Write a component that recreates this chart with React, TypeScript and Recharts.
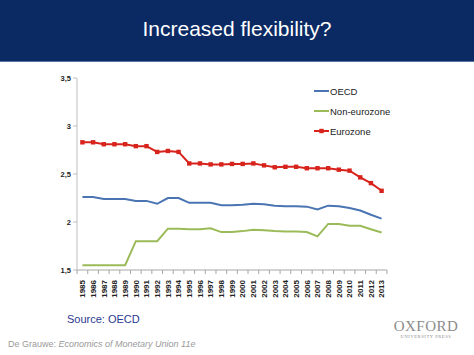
import React from 'react';
import { LineChart, Line, XAxis, YAxis, Legend } from 'recharts';

const years = [
  '1985', '1986', '1987', '1988', '1989', '1990', '1991', '1992', '1993', '1994',
  '1995', '1996', '1997', '1998', '1999', '2000', '2001', '2002', '2003', '2004',
  '2005', '2006', '2007', '2008', '2009', '2010', '2011', '2012', '2013',
];

const oecd = [
  2.26, 2.26, 2.24, 2.24, 2.24, 2.22, 2.22, 2.19, 2.25, 2.25,
  2.2, 2.2, 2.2, 2.175, 2.175, 2.18, 2.19, 2.185, 2.17, 2.165,
  2.165, 2.16, 2.13, 2.17, 2.165, 2.145, 2.12, 2.075, 2.035,
];

const nonEurozone = [
  1.55, 1.55, 1.55, 1.55, 1.55, 1.8, 1.8, 1.8, 1.93, 1.93,
  1.925, 1.925, 1.935, 1.895, 1.895, 1.905, 1.92, 1.915, 1.905, 1.9,
  1.9, 1.895, 1.85, 1.98, 1.98, 1.96, 1.96, 1.925, 1.89,
];

const eurozone = [
  2.83, 2.83, 2.81, 2.81, 2.81, 2.79, 2.79, 2.73, 2.74, 2.73,
  2.61, 2.61, 2.6, 2.6, 2.605, 2.605, 2.61, 2.59, 2.57, 2.575,
  2.575, 2.56, 2.56, 2.56, 2.545, 2.535, 2.465, 2.405, 2.325,
];

const yTicks = [1.5, 2, 2.5, 3, 3.5];

const data = years.map((year, i) => ({
  year,
  oecd: oecd[i],
  nonEuro: nonEurozone[i],
  euro: eurozone[i],
}));

const BLUE = '#4a74b2';
const GREEN = '#9bbb59';
const RED = '#d8231c';
const FONT = '"Liberation Sans", Arial, sans-serif';

const PLOT_W = 310;
const PAD = 5.4;
const HALF = (PLOT_W - 2 * PAD) / (years.length - 1) / 2;

// square markers like the Excel original
const SquareDot = ({ cx, cy, index }: any) => (
  <rect key={`sq-${index}`} x={cx - 2.2} y={cy - 2.2} width={4.4} height={4.4} fill={RED} />
);

// rotated year label with tick mark on the category boundary
const YearTick = ({ x, y, payload, index }: any) => (
  <g>
    <line x1={x - HALF} x2={x - HALF} y1={y - 8} y2={y - 4} stroke="#a6a6a6" />
    {index === years.length - 1 && (
      <line x1={x + HALF} x2={x + HALF} y1={y - 8} y2={y - 4} stroke="#a6a6a6" />
    )}
    <text
      x={x}
      y={y}
      transform={`rotate(-90 ${x} ${y})`}
      textAnchor="end"
      dy={2.8}
      dx={-2}
      fontSize={8}
      fontWeight="bold"
      fontFamily={FONT}
      fill="#222"
    >
      {payload.value}
    </text>
  </g>
);

const LegendBox = () => {
  const items = [
    { name: 'OECD', color: BLUE, marker: false },
    { name: 'Non-eurozone', color: GREEN, marker: false },
    { name: 'Eurozone', color: RED, marker: true },
  ];
  return (
    <div style={{ fontFamily: FONT, fontSize: 9.5, color: '#222' }}>
      {items.map((it) => (
        <div key={it.name} style={{ display: 'flex', alignItems: 'center', height: 20 }}>
          <svg width={15} height={8} style={{ marginRight: 1 }}>
            <line x1={0} x2={15} y1={4} y2={4} stroke={it.color} strokeWidth={2} />
            {it.marker && <rect x={5.3} y={1.8} width={4.4} height={4.4} fill={RED} />}
          </svg>
          <span>{it.name}</span>
        </div>
      ))}
    </div>
  );
};

export default function App() {
  return (
    <div style={{ position: 'absolute', left: 0, top: 0, width: 474, height: 355, background: '#fff', overflow: 'hidden' }}>
      <div
        style={{
          position: 'absolute', left: 0, top: 0, width: 474, height: 61,
          background: '#0b2a63', borderBottom: '1px solid #5a74a4',
          color: '#fff', fontFamily: FONT, fontSize: 21,
          display: 'flex', alignItems: 'center', justifyContent: 'center',
        }}
      >
        <span style={{ marginTop: -3 }}>Increased flexibility?</span>
      </div>

      <div style={{ position: 'absolute', left: 0, top: 0 }}>
        <LineChart width={474} height={355} data={data} margin={{ top: 78, right: 87, left: 0, bottom: 0 }}>
          <XAxis
            dataKey="year"
            interval={0}
            height={85}
            padding={{ left: PAD, right: PAD }}
            tickLine={false}
            axisLine={{ stroke: '#a6a6a6' }}
            tick={<YearTick />}
          />
          <YAxis
            domain={[1.5, 3.5]}
            ticks={yTicks}
            width={77}
            axisLine={{ stroke: '#bfbfbf' }}
            tickLine={{ stroke: '#bfbfbf' }}
            tickSize={4}
            tickFormatter={(v: number) => String(v).replace('.', ',')}
            tick={{ fontSize: 7.5, fontWeight: 'bold', fontFamily: FONT, fill: '#222' }}
          />
          <Legend
            layout="vertical"
            align="center"
            verticalAlign="middle"
            wrapperStyle={{ left: 314, top: 81, width: 140, height: 60 }}
            content={<LegendBox />}
          />
          <Line dataKey="oecd" name="OECD" stroke={BLUE} strokeWidth={2} dot={false} isAnimationActive={false} />
          <Line dataKey="nonEuro" name="Non-eurozone" stroke={GREEN} strokeWidth={2} dot={false} isAnimationActive={false} />
          <Line dataKey="euro" name="Eurozone" stroke={RED} strokeWidth={2} dot={<SquareDot />} isAnimationActive={false} />
        </LineChart>
      </div>

      <div style={{ position: 'absolute', left: 67, top: 313, fontFamily: FONT, fontSize: 11, color: '#2b3990' }}>
        Source: OECD
      </div>
      <div style={{ position: 'absolute', left: 8, top: 339, fontFamily: FONT, fontSize: 9, color: '#9a9a9a' }}>
        De Grauwe: <i>Economics of Monetary Union 11e</i>
      </div>
      <div style={{ position: 'absolute', left: 393, top: 319, width: 66, textAlign: 'center', color: '#8c8c8c' }}>
        <div style={{ fontFamily: '"Liberation Serif", serif', fontSize: 15, letterSpacing: 0.5, lineHeight: '15px' }}>OXFORD</div>
        <div style={{ fontFamily: '"Liberation Serif", serif', fontSize: 4.5, letterSpacing: 0.6, lineHeight: '6px' }}>UNIVERSITY PRESS</div>
      </div>
    </div>
  );
}
